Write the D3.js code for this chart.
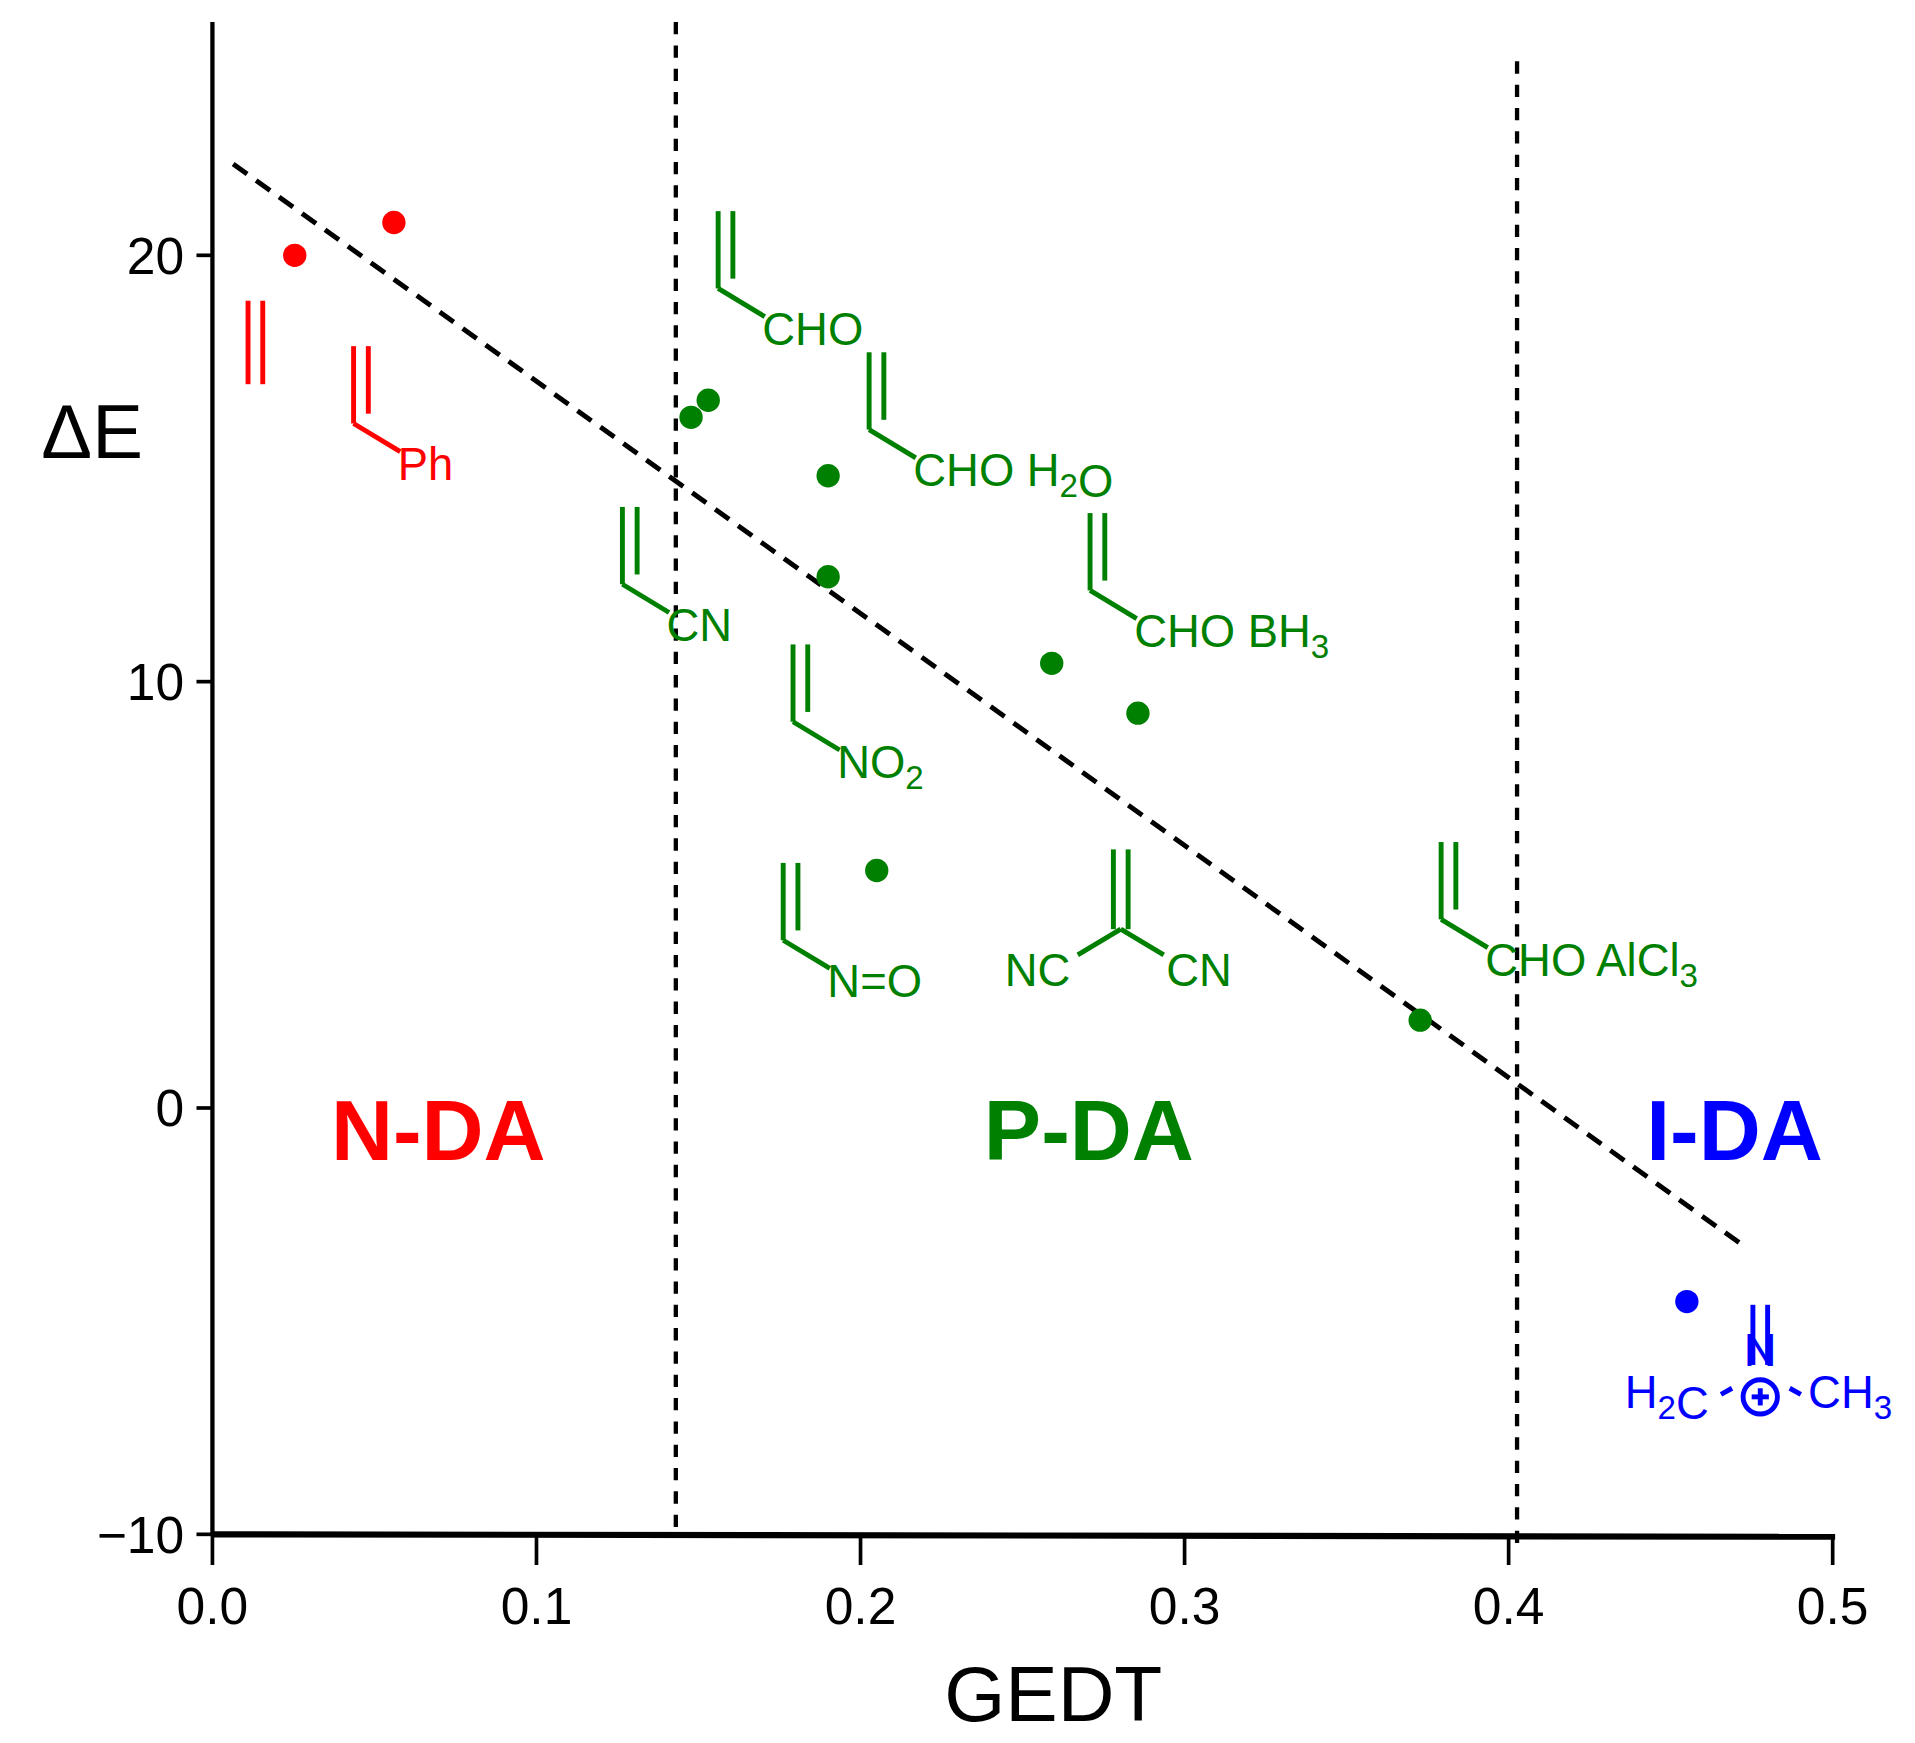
<!DOCTYPE html><html><head><meta charset="utf-8"><script src="https://cdn.jsdelivr.net/npm/d3@7"></script>
<style>body{margin:0;background:#fff}svg{display:block}text{font-family:Arial,"Liberation Sans",sans-serif}</style></head><body><svg id="c" width="1915" height="1743" viewBox="0 0 1560 1420"></svg>
<script>
const xTicks=[0.0,0.1,0.2,0.3,0.4,0.5];
const yTicks=[-10,0,10,20];
const redX=[0.0254,0.056], redY=[20.0,20.77];
const greenX=[0.1477,0.153,0.190,0.190,0.259,0.2856,0.205,0.3727], greenY=[16.2,16.6,14.83,12.46,10.43,9.26,5.57,2.06];
const blueX=[0.455], blueY=[-4.54];
const trendX=[0.0064,0.473], trendY=[22.14,-3.26];
const dividers=[0.143,0.4026];
const regions=["N-DA","P-DA","I-DA"];
const RED="#ff0000",GREEN="#008000",BLUE="#0000ff";
const svg=d3.select("#c");
const x=d3.scaleLinear().domain([0,0.5]).range([173,1493]);
const y=d3.scaleLinear().domain([-10,20]).range([1250,208]);
// axes
svg.append("line").attr("x1",173).attr("x2",173).attr("y1",18).attr("y2",1250).attr("stroke","#000").attr("stroke-width",3.5);
svg.append("line").attr("x1",173).attr("x2",1495).attr("y1",1250).attr("y2",1252).attr("stroke","#000").attr("stroke-width",5);
xTicks.forEach(t=>{svg.append("line").attr("x1",x(t)).attr("x2",x(t)).attr("y1",1250).attr("y2",1275).attr("stroke","#000").attr("stroke-width",3);
 svg.append("text").attr("x",x(t)).attr("y",1323).attr("text-anchor","middle").attr("font-size",42).text(t.toFixed(1));});
yTicks.forEach(t=>{svg.append("line").attr("x1",160).attr("x2",173).attr("y1",y(t)).attr("y2",y(t)).attr("stroke","#000").attr("stroke-width",3);
 svg.append("text").attr("x",150).attr("y",y(t)+15).attr("text-anchor","end").attr("font-size",42).text(t<0?"\u2212"+(-t):t);});
svg.append("text").attr("x",858).attr("y",1402).attr("text-anchor","middle").attr("font-size",64).text("GEDT");
svg.append("text").attr("x",75).attr("y",373).attr("text-anchor","middle").attr("font-size",62).text("\u0394E");
// dividers
svg.append("line").attr("x1",x(dividers[0])).attr("x2",x(dividers[0])).attr("y1",18).attr("y2",1250).attr("stroke","#000").attr("stroke-width",3.5).attr("stroke-dasharray","10,9");
svg.append("line").attr("x1",x(dividers[1])).attr("x2",x(dividers[1])).attr("y1",50).attr("y2",1265).attr("stroke","#000").attr("stroke-width",3.5).attr("stroke-dasharray","10,9");
// trend
svg.append("line").attr("x1",x(trendX[0])).attr("y1",y(trendY[0])).attr("x2",x(trendX[1])).attr("y2",y(trendY[1])).attr("stroke","#000").attr("stroke-width",4).attr("stroke-dasharray","14,9");
// points
function pts(xs,ys,c){xs.forEach((v,i)=>svg.append("circle").attr("cx",x(v)).attr("cy",y(ys[i])).attr("r",9.5).attr("fill",c));}
pts(redX,redY,RED);pts(greenX,greenY,GREEN);pts(blueX,blueY,BLUE);
// region labels
[[357,RED],[887,GREEN],[1413,BLUE]].forEach((d,i)=>svg.append("text").attr("x",d[0]).attr("y",945).attr("text-anchor","middle").attr("font-size",70).attr("font-weight","bold").attr("fill",d[1]).text(regions[i]));
// molecule sketches
function ln(x1,y1,x2,y2,c){svg.append("line").attr("x1",x1).attr("y1",y1).attr("x2",x2).attr("y2",y2).attr("stroke",c).attr("stroke-width",4);}
function txt(xx,yy,parts,c,anchor){const t=svg.append("text").attr("x",xx).attr("y",yy).attr("font-size",37).attr("fill",c).attr("text-anchor",anchor||"start");
 parts.forEach(p=>{if(typeof p==="string")t.append("tspan").text(p);else{t.append("tspan").attr("font-size",27).attr("dy",9).text(p[0]);t.append("tspan").attr("dy",-9).text("");}});}
function vinyl(x0,y0,parts,c){ln(x0,y0,x0,y0+63,c);ln(x0+12,y0,x0+12,y0+55,c);ln(x0,y0+63,x0+38,y0+86,c);txt(x0+36,y0+109,parts,c);}
ln(202,245,202,313,RED);ln(214,245,214,313,RED);
vinyl(288,282,["Ph"],RED);
vinyl(585,172,["CHO"],GREEN);
vinyl(708,287,["CHO H",["2"],"O"],GREEN);
vinyl(507,413,["CN"],GREEN);
vinyl(888,418,["CHO BH",["3"]],GREEN);
vinyl(646,525,["NO",["2"]],GREEN);
vinyl(638,703,["N=O"],GREEN);
vinyl(1174,686,["CHO AlCl",["3"]],GREEN);
ln(907,692,907,757,GREEN);ln(919,692,919,757,GREEN);ln(913,757,878,778,GREEN);ln(913,757,948,778,GREEN);
txt(872,803,["NC"],GREEN,"end");txt(950,803,["CN"],GREEN);
ln(1428,1063,1428,1112,BLUE);ln(1440,1063,1440,1112,BLUE);
txt(1434,1113,["N"],BLUE,"middle");
ln(1411,1131,1402,1136,BLUE);ln(1458,1131,1467,1136,BLUE);
txt(1392,1147,["H",["2"],"C"],BLUE,"end");txt(1473,1147,["CH",["3"]],BLUE);
svg.append("circle").attr("cx",1434).attr("cy",1138).attr("r",14).attr("fill","none").attr("stroke",BLUE).attr("stroke-width",4);
ln(1427,1138,1441,1138,BLUE);ln(1434,1131,1434,1145,BLUE);
</script></body></html>
